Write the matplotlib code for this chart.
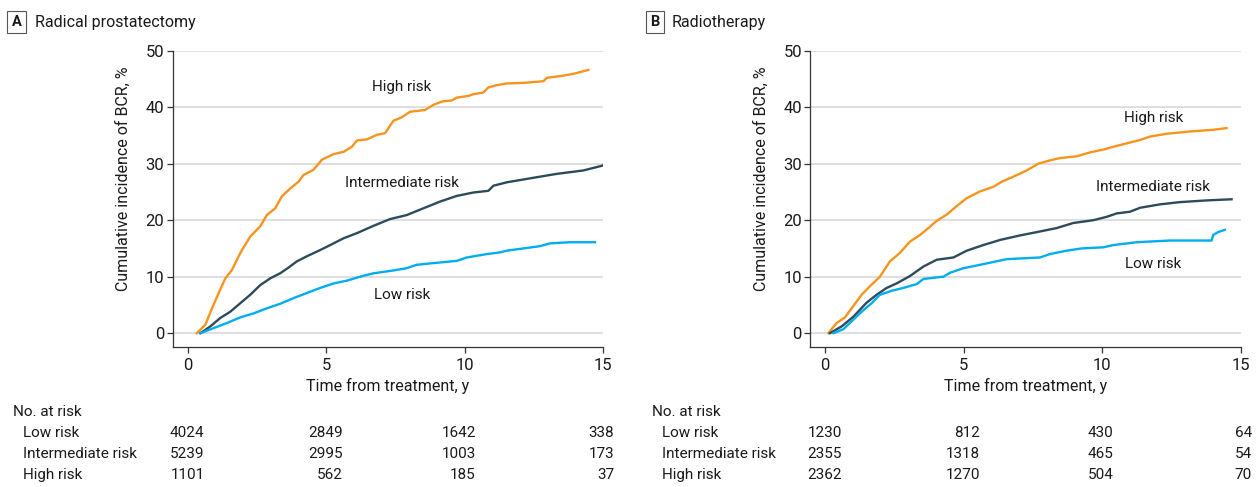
import matplotlib
matplotlib.use("Agg")
import matplotlib.pyplot as plt

plt.rcParams['font.family'] = ['Roboto', 'DejaVu Sans']

# ---- data ---------------------------------------------------------------
# Panel A: radical prostatectomy
rp_high_t = [0.32, 0.63, 0.87, 1.11, 1.35, 1.59, 1.83, 1.95, 2.25, 2.61, 2.85, 3.15, 3.39,
             3.69, 3.99, 4.17, 4.53, 4.84, 5.26, 5.62, 5.92, 6.10, 6.46, 6.82, 7.12, 7.42,
             7.72, 8.02, 8.56, 8.86, 9.17, 9.53, 9.71, 10.13, 10.31, 10.67, 10.85, 11.15,
             11.51, 12.11, 12.84, 12.96, 13.44, 13.92, 14.46]
rp_high_y = [0, 1.5, 4.4, 7.1, 9.7, 11.2, 13.6, 14.7, 17.1, 18.9, 20.9, 22.1, 24.2,
             25.6, 26.8, 28.0, 28.9, 30.7, 31.7, 32.1, 33.0, 34.1, 34.3, 35.1, 35.4, 37.6,
             38.2, 39.2, 39.5, 40.4, 41.0, 41.2, 41.7, 42.0, 42.3, 42.6, 43.5, 43.9,
             44.2, 44.3, 44.6, 45.2, 45.5, 45.9, 46.6]

rp_int_t = [0.45, 0.81, 1.17, 1.53, 1.89, 2.25, 2.61, 2.97, 3.33, 3.63, 3.93, 4.29, 4.77,
            5.14, 5.62, 6.10, 6.70, 7.30, 7.90, 8.50, 9.11, 9.71, 10.31, 10.85, 11.03,
            11.51, 11.99, 12.71, 13.32, 14.28, 15.0]
rp_int_y = [0, 1.2, 2.7, 3.8, 5.3, 6.8, 8.5, 9.7, 10.6, 11.6, 12.7, 13.6, 14.7,
            15.6, 16.8, 17.7, 19.0, 20.2, 20.9, 22.1, 23.3, 24.3, 24.9, 25.2, 26.1,
            26.7, 27.1, 27.7, 28.2, 28.8, 29.7]

rp_low_t = [0.45, 0.93, 1.41, 1.89, 2.37, 2.85, 3.33, 3.81, 4.29, 4.77, 5.26, 5.74, 6.22,
            6.70, 7.42, 7.90, 8.26, 8.86, 9.71, 10.07, 10.79, 11.27, 11.51, 12.11, 12.71,
            13.08, 13.80, 14.70]
rp_low_y = [0, 0.9, 1.8, 2.8, 3.5, 4.4, 5.2, 6.2, 7.1, 8.0, 8.8, 9.3, 10.0,
            10.6, 11.1, 11.5, 12.1, 12.4, 12.8, 13.4, 14.0, 14.3, 14.6, 15.0, 15.4,
            15.9, 16.1, 16.1]

# Panel B: radiotherapy
rt_high_t = [0.12, 0.42, 0.72, 1.02, 1.32, 1.62, 1.98, 2.34, 2.70, 3.06, 3.43, 3.73, 4.03,
             4.39, 4.75, 5.11, 5.59, 6.07, 6.37, 6.79, 7.27, 7.69, 8.05, 8.47, 9.07, 9.56,
             10.04, 10.40, 10.88, 11.36, 11.72, 12.32, 13.16, 14.00, 14.48]
rt_high_y = [0, 1.8, 2.8, 4.8, 6.8, 8.3, 10.0, 12.7, 14.2, 16.2, 17.4, 18.6, 19.9,
             21.0, 22.5, 23.9, 25.1, 25.9, 26.8, 27.7, 28.8, 30.0, 30.5, 31.0, 31.3, 32.0,
             32.5, 33.0, 33.6, 34.2, 34.8, 35.3, 35.7, 36.0, 36.3]

rt_int_t = [0.18, 0.60, 1.02, 1.50, 1.86, 2.22, 2.58, 3.06, 3.55, 4.03, 4.63, 5.11, 5.71,
            6.31, 7.03, 7.75, 8.35, 8.95, 9.68, 10.16, 10.52, 11.00, 11.36, 12.08, 12.80,
            13.76, 14.66]
rt_int_y = [0, 1.2, 2.9, 5.4, 6.8, 8.0, 8.8, 10.1, 11.8, 13.0, 13.4, 14.6, 15.6,
            16.5, 17.3, 18.0, 18.6, 19.5, 20.0, 20.6, 21.2, 21.5, 22.2, 22.8, 23.2,
            23.5, 23.7]

rt_low_t = [0.30, 0.66, 0.96, 1.32, 1.68, 1.98, 2.40, 2.82, 3.31, 3.55, 4.27, 4.51, 4.99,
            5.59, 6.55, 7.75, 8.11, 8.71, 9.25, 10.04, 10.40, 11.24, 12.44, 13.94, 14.00,
            14.18, 14.42]
rt_low_y = [0, 0.7, 2.1, 3.8, 5.3, 6.8, 7.5, 8.0, 8.7, 9.6, 10.0, 10.7, 11.5,
            12.1, 13.1, 13.4, 14.0, 14.6, 15.0, 15.2, 15.6, 16.1, 16.4, 16.4, 17.4,
            17.9, 18.3]

risk_groups = ['Low risk', 'Intermediate risk', 'High risk']
rp_at_risk = [[4024, 2849, 1642, 338],
              [5239, 2995, 1003, 173],
              [1101, 562, 185, 37]]
rt_at_risk = [[1230, 812, 430, 64],
              [2355, 1318, 465, 54],
              [2362, 1270, 504, 70]]

# ---- style ----------------------------------------------------------------
c_high = '#F7941D'
c_int = '#2D4B5A'
c_low = '#00AEEF'
grid_c = '#DCDCDC'
txt_c = '#1A1A1A'

W, H = 1256, 487
fig = plt.figure(figsize=(W / 100, H / 100), dpi=100)

panels = [
    dict(letter='A', title='Radical prostatectomy', left=172.7, right=603.3, xmin=-0.55,
         curves=[(rp_high_t, rp_high_y, c_high), (rp_int_t, rp_int_y, c_int),
                 (rp_low_t, rp_low_y, c_low)],
         labels=[('High risk', 7.73, 43.6), ('Intermediate risk', 7.73, 26.5),
                 ('Low risk', 7.73, 6.7)],
         atrisk=rp_at_risk, box_x=16.5, title_x=35, tab_x=13),
    dict(letter='B', title='Radiotherapy', left=810.3, right=1241, xmin=-0.53,
         curves=[(rt_high_t, rt_high_y, c_high), (rt_int_t, rt_int_y, c_int),
                 (rt_low_t, rt_low_y, c_low)],
         labels=[('High risk', 11.84, 38.0), ('Intermediate risk', 11.84, 25.9),
                 ('Low risk', 11.84, 12.2)],
         atrisk=rt_at_risk, box_x=654.5, title_x=672, tab_x=652),
]

top_px, bot_px = 50.7, 347.3
num_x = [0.6, 5.6, 10.4, 15.4]   # right edge of at-risk numbers, in data x
row_px = [433, 454, 475]

for p in panels:
    ax = fig.add_axes([p['left'] / W, (H - bot_px) / H,
                       (p['right'] - p['left']) / W, (bot_px - top_px) / H])
    for t, y, c in p['curves']:
        ax.plot(t, y, color=c, lw=1.7, solid_joinstyle='round', zorder=3)
    for s, x, y in p['labels']:
        ax.text(x, y, s, ha='center', va='center', fontsize=11, color=txt_c)

    ax.set_xlim(p['xmin'], 15)
    ax.set_ylim(-2.5, 50)
    ax.set_xticks([0, 5, 10, 15])
    ax.set_yticks([0, 10, 20, 30, 40, 50])
    ax.yaxis.grid(True, color=grid_c, lw=1.3)
    ax.set_axisbelow(True)
    for side in ['top', 'right']:
        ax.spines[side].set_visible(False)
    for side in ['left', 'bottom']:
        ax.spines[side].set_color('#333333')
        ax.spines[side].set_linewidth(0.9)
    ax.tick_params(axis='both', length=4, width=0.9, color='#333333',
                   labelsize=12, labelcolor=txt_c)
    ax.tick_params(axis='y', pad=2)
    ax.tick_params(axis='x', pad=4)
    ax.set_xlabel('Time from treatment, y', fontsize=11.5, color=txt_c, labelpad=3)
    ax.set_ylabel('Cumulative incidence of BCR, %', fontsize=11.5, color=txt_c)
    ax.yaxis.set_label_coords(-0.097, 0.57)

    # panel heading
    fig.text(p['box_x'] / W, 1 - 22 / H, p['letter'], ha='center', va='center',
             fontsize=10.5, fontweight='bold', color=txt_c,
             bbox=dict(boxstyle='square,pad=0.3', fc='white', ec='#555555', lw=0.8))
    fig.text(p['title_x'] / W, 1 - 22 / H, p['title'], ha='left', va='center',
             fontsize=11.5, color=txt_c)

    # numbers at risk
    trans = ax.get_xaxis_transform()
    fig.text(p['tab_x'] / W, 1 - 412 / H, 'No. at risk', ha='left', va='center',
             fontsize=11, color=txt_c)
    for i, g in enumerate(risk_groups):
        yfig = 1 - row_px[i] / H
        fig.text((p['tab_x'] + 10) / W, yfig, g, ha='left', va='center',
                 fontsize=11, color=txt_c)
        yax = (bot_px - row_px[i]) / (bot_px - top_px)
        for j, n in enumerate(p['atrisk'][i]):
            ax.text(num_x[j], yax, str(n), transform=trans, ha='right', va='center',
                    fontsize=11, color=txt_c, clip_on=False)

fig.savefig('out.png', dpi=100)
